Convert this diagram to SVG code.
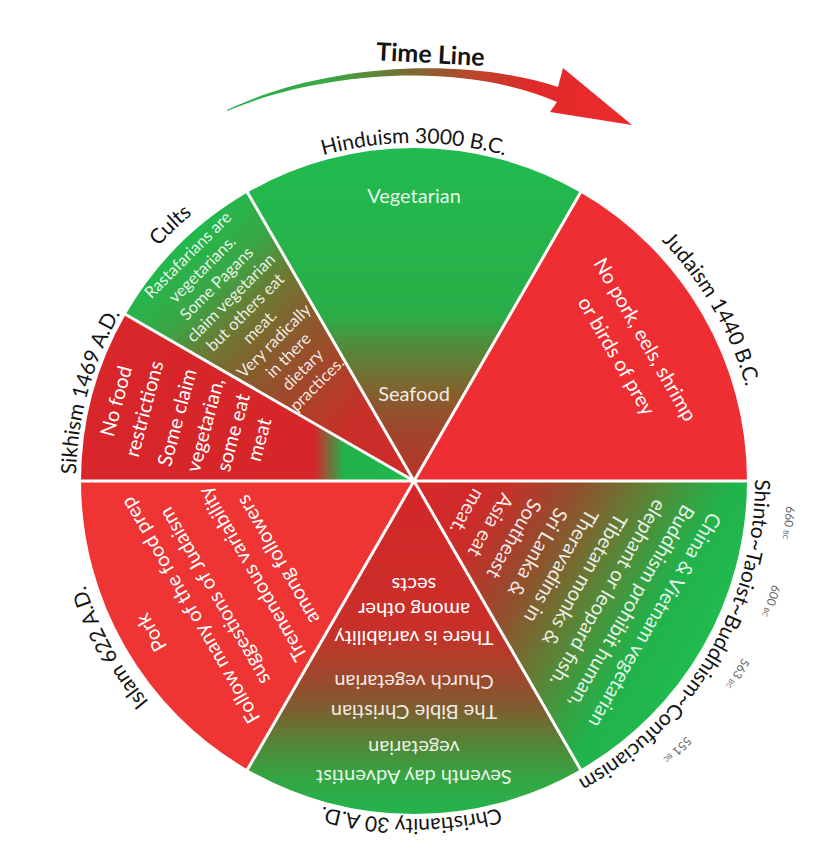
<svg xmlns="http://www.w3.org/2000/svg" width="821" height="867" viewBox="0 0 821 867">
<style>
text{font-family:Lato,"Liberation Sans",sans-serif}
.in{font-size:20px;fill:#fff;text-anchor:middle}
.soft{fill-opacity:.9}
.cult{font-size:16.5px}
.lab{font-size:21px;fill:#141414;text-anchor:middle}
.date{font-size:12px;fill:#666;text-anchor:middle}
.bc{font-size:7px}
.div{stroke:#fff;stroke-width:3;stroke-linecap:round}
</style>
<defs>
<linearGradient id="gArrow" gradientUnits="userSpaceOnUse" x1="227" y1="0" x2="632" y2="0">
<stop offset="0" stop-color="#22b34b"/><stop offset="0.25" stop-color="#3aa844"/><stop offset="0.45" stop-color="#7a6a30"/><stop offset="0.6" stop-color="#b8482a"/><stop offset="0.75" stop-color="#e02a2a"/><stop offset="1" stop-color="#ee2a2a"/>
</linearGradient>
<linearGradient id="gHindu" gradientUnits="userSpaceOnUse" x1="414" y1="481" x2="414" y2="148">
<stop offset="0" stop-color="#b8352a"/><stop offset="0.15" stop-color="#a0452c"/><stop offset="0.27" stop-color="#82622f"/><stop offset="0.4" stop-color="#55893a"/><stop offset="0.5" stop-color="#2aae48"/><stop offset="1" stop-color="#20bb4e"/>
</linearGradient>
<linearGradient id="gChrist" gradientUnits="userSpaceOnUse" x1="414" y1="481" x2="414" y2="814">
<stop offset="0" stop-color="#d42628"/><stop offset="0.45" stop-color="#c9302a"/><stop offset="0.6" stop-color="#9a4a2c"/><stop offset="0.69" stop-color="#7c5f30"/><stop offset="0.8" stop-color="#4f8a38"/><stop offset="0.89" stop-color="#35a544"/><stop offset="1" stop-color="#22b44c"/>
</linearGradient>
<linearGradient id="gCults" gradientUnits="userSpaceOnUse" x1="414" y1="481" x2="178.5" y2="245.5">
<stop offset="0" stop-color="#d02a2a"/><stop offset="0.25" stop-color="#c8302a"/><stop offset="0.47" stop-color="#9b4c2b"/><stop offset="0.595" stop-color="#84602e"/><stop offset="0.715" stop-color="#6b7a33"/><stop offset="0.84" stop-color="#3aa646"/><stop offset="1" stop-color="#22b84c"/>
</linearGradient>
<linearGradient id="gBuddh" gradientUnits="userSpaceOnUse" x1="414" y1="481" x2="702.4" y2="647.5">
<stop offset="0" stop-color="#d62a2a"/><stop offset="0.18" stop-color="#cf2a2a"/><stop offset="0.26" stop-color="#c2332a"/><stop offset="0.35" stop-color="#a8402b"/><stop offset="0.43" stop-color="#924f2d"/><stop offset="0.51" stop-color="#7e6330"/><stop offset="0.59" stop-color="#667a34"/><stop offset="0.67" stop-color="#4f8e3a"/><stop offset="0.75" stop-color="#35a242"/><stop offset="0.83" stop-color="#22b24b"/><stop offset="1" stop-color="#20bb4e"/>
</linearGradient>
<linearGradient id="gSikh" gradientUnits="userSpaceOnUse" x1="81" y1="0" x2="414" y2="0">
<stop offset="0" stop-color="#d8262b"/><stop offset="0.7" stop-color="#d6262a"/><stop offset="0.79" stop-color="#22b24b"/><stop offset="1" stop-color="#22b84c"/>
</linearGradient>
<path id="ringA" d="M752,481 A338,338 0 1 1 76,481 A338,338 0 1 1 752,481"/>
<path id="ringB" d="M755,481 A341,341 0 1 1 73,481 A341,341 0 1 1 755,481"/>
<path id="ringC" d="M759,481 A345,345 0 1 1 69,481 A345,345 0 1 1 759,481"/>
<path id="ringD" d="M761,481 A347,347 0 1 1 67,481 A347,347 0 1 1 761,481"/>
<path id="ringE" d="M787,481 A373,373 0 1 1 41,481 A373,373 0 1 1 787,481"/>
</defs>
<rect width="821" height="867" fill="#fff"/>

<g id="timeline">
<path d="M227,110 C320,65 460,55 558,87 L563,68 L632,125 L550,112 L557,102 C460,60 320,72 227,111 Z" fill="url(#gArrow)"/>
<text x="430" y="63" transform="rotate(3 430 63)" font-size="25" font-weight="bold" fill="#141414" text-anchor="middle">Time Line</text>
</g>

<g id="hinduism">
<path d="M414,481 L247.5,192.6 A333,333 0 0 1 580.5,192.6 Z" fill="url(#gHindu)"/>
<g transform="translate(414,481)">
<text class="in soft" x="0" y="-278" font-size="20.5">Vegetarian</text>
<text class="in soft" x="0" y="-80" font-size="20.5">Seafood</text>
</g>
<text class="lab"><textPath href="#ringA" startOffset="75%">Hinduism 3000 B.C.</textPath></text>
</g>

<g id="judaism">
<path d="M414,481 L580.5,192.6 A333,333 0 0 1 747,481 Z" fill="#ee2e32"/>
<g transform="translate(414,481) rotate(60)">
<text class="in" x="-7" y="-264" font-size="20.5">No pork, eels, shrimp</text>
<text class="in" x="-7" y="-231" font-size="20.5">or birds of prey</text>
</g>
<text class="lab" font-size="22"><textPath href="#ringC" startOffset="91.667%">Judaism 1440 B.C.</textPath></text>
</g>

<g id="buddhism">
<path d="M414,481 L747,481 A333,333 0 0 1 580.5,769.4 Z" fill="url(#gBuddh)"/>
<g transform="translate(414,481) rotate(120)">
<text class="in soft" x="0" y="-271.4">China &amp; Vietnam vegetarian</text>
<text class="in soft" x="0" y="-244.3">Buddhism prohibit human,</text>
<text class="in soft" x="0" y="-217.2">elephant or leopard fish.</text>
<text class="in soft" x="0" y="-190.1">Tibetan monks &amp;</text>
<text class="in soft" x="0" y="-163">Theravadins in</text>
<text class="in soft" x="0" y="-135.9">Sri Lanka &amp;</text>
<text class="in soft" x="0" y="-108.8">Southeast</text>
<text class="in soft" x="0" y="-81.7">Asia eat</text>
<text class="in soft" x="0" y="-54.6">meat.</text>
</g>
<text class="lab" font-size="17.5"><textPath href="#ringB" startOffset="8.47%">Shinto~Taoist~Buddhism~Confucianism</textPath></text>
<text class="date"><textPath href="#ringE" startOffset="1.78%">660 <tspan class="bc">BC</tspan></textPath></text>
<text class="date"><textPath href="#ringE" startOffset="5.17%">600 <tspan class="bc">BC</tspan></textPath></text>
<text class="date"><textPath href="#ringE" startOffset="8.56%">563 <tspan class="bc">BC</tspan></textPath></text>
<text class="date"><textPath href="#ringE" startOffset="12.67%">551 <tspan class="bc">BC</tspan></textPath></text>
</g>

<g id="christianity">
<path d="M414,481 L580.5,769.4 A333,333 0 0 1 247.5,769.4 Z" fill="url(#gChrist)"/>
<g transform="translate(414,481) rotate(180)">
<text class="in soft" x="0" y="-289.4">Seventh day Adventist</text>
<text class="in soft" x="0" y="-260.4">vegetarian</text>
<text class="in soft" x="0" y="-224.4">The Bible Christian</text>
<text class="in soft" x="0" y="-194.4">Church vegetarian</text>
<text class="in" x="0" y="-150.4">There is variability</text>
<text class="in" x="0" y="-122.4">among other</text>
<text class="in" x="0" y="-97.4">sects</text>
</g>
<text class="lab"><textPath href="#ringA" startOffset="25.14%">Christianity 30 A.D.</textPath></text>
</g>

<g id="islam">
<path d="M414,481 L247.5,769.4 A333,333 0 0 1 81,481 Z" fill="#ef3434"/>
<g transform="translate(414,481) rotate(240)">
<text class="in" x="0" y="-296.4">Pork</text>
<text class="in" x="0" y="-251.4">Follow many of the food prep</text>
<text class="in" x="0" y="-223.4">suggestions of Judaism</text>
<text class="in" x="0" y="-179.4">Tremendous variability</text>
<text class="in" x="0" y="-150.4">among followers</text>
</g>
<text class="lab" font-size="22"><textPath href="#ringC" startOffset="42.03%">Islam 622 A.D.</textPath></text>
</g>

<g id="sikhism">
<path d="M414,481 L81,481 A333,333 0 0 1 125.6,314.5 Z" fill="url(#gSikh)"/>
<g transform="translate(414,481) rotate(285)">
<text class="in" x="0" y="-301.4">No food</text>
<text class="in" x="0" y="-272.4">restrictions</text>
<text class="in" x="0" y="-238.4">Some claim</text>
<text class="in" x="0" y="-209.4">vegetarian,</text>
<text class="in" x="0" y="-180.4">some eat</text>
<text class="in" x="0" y="-153.4">meat</text>
</g>
<text class="lab" font-size="21.5"><textPath href="#ringA" startOffset="54.28%">Sikhism 1469 A.D.</textPath></text>
</g>

<g id="cults">
<path d="M414,481 L125.6,314.5 A333,333 0 0 1 247.5,192.6 Z" fill="url(#gCults)"/>
<g transform="translate(414,481) rotate(315)">
<text class="in soft cult" x="0" y="-314.2">Rastafarians are</text>
<text class="in soft cult" x="0" y="-293.9">vegetarians.</text>
<text class="in soft cult" x="0" y="-273.6">Some Pagans</text>
<text class="in soft cult" x="0" y="-253.3">claim vegetarian</text>
<text class="in soft cult" x="0" y="-233">but others eat</text>
<text class="in soft cult" x="0" y="-212.7">meat.</text>
<text class="in soft cult" x="0" y="-192.4">Very radically</text>
<text class="in soft cult" x="0" y="-172.1">in there</text>
<text class="in soft cult" x="0" y="-151.8">dietary</text>
<text class="in soft cult" x="0" y="-131.5">practices.</text>
</g>
<text class="lab" font-size="23"><textPath href="#ringD" startOffset="62.89%">Cults</textPath></text>
</g>

<g id="dividers">
<line class="div" x1="414" y1="481" x2="747" y2="481"/>
<line class="div" x1="414" y1="481" x2="580.5" y2="192.6"/>
<line class="div" x1="414" y1="481" x2="247.5" y2="192.6"/>
<line class="div" x1="414" y1="481" x2="125.6" y2="314.5"/>
<line class="div" x1="414" y1="481" x2="81" y2="481"/>
<line class="div" x1="414" y1="481" x2="247.5" y2="769.4"/>
<line class="div" x1="414" y1="481" x2="580.5" y2="769.4"/>
</g>
</svg>
